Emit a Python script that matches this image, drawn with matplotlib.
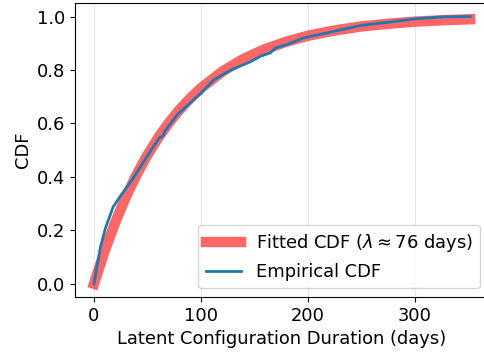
import numpy as np
import matplotlib
matplotlib.use("Agg")
import matplotlib.pyplot as plt

# fitted exponential CDF (lambda ~ 76 days)
fit_days = [0, 10, 20, 30, 40, 50, 60, 70, 80, 90, 100, 120, 140, 160, 180,
            200, 225, 250, 275, 300, 325, 352]
fit_cdf = [0.0, 0.123, 0.231, 0.326, 0.409, 0.482, 0.546, 0.602, 0.651, 0.694,
           0.732, 0.794, 0.842, 0.878, 0.906, 0.928, 0.948, 0.963, 0.973,
           0.981, 0.986, 0.990]

# empirical CDF
emp_days = [0, 6, 11, 18, 25, 35, 47, 55, 61, 65, 66, 78, 100, 112, 128, 140,
            147, 156, 165, 170, 181, 196, 225, 250, 278, 302, 327, 352]
emp_cdf = [0.0, 0.137, 0.212, 0.288, 0.33, 0.385, 0.46, 0.51, 0.545, 0.555,
           0.57, 0.633, 0.713, 0.763, 0.80, 0.82, 0.832, 0.852, 0.864, 0.883,
           0.896, 0.92, 0.945, 0.967, 0.98, 0.992, 0.999, 1.0]

plt.rcParams["font.size"] = 12.9

fig = plt.figure(figsize=(4.85, 3.58), dpi=100)
ax = fig.add_axes([0.155, 0.170, 0.853, 0.821])

ax.plot(fit_days, fit_cdf, color="red", alpha=0.6, lw=7.5,
        label=r"Fitted CDF ($\lambda \approx 76$ days)")
ax.plot(emp_days, emp_cdf, color="tab:blue", lw=2, label="Empirical CDF")

ax.set_xticks([0, 100, 200, 300])
ax.set_yticks(np.arange(0, 1.01, 0.2))
ax.grid(axis="x", alpha=0.3)
ax.set_xlabel("Latent Configuration Duration (days)")
ax.set_ylabel("CDF")
ax.legend(loc="lower right")

fig.savefig("out.png", dpi=100)
